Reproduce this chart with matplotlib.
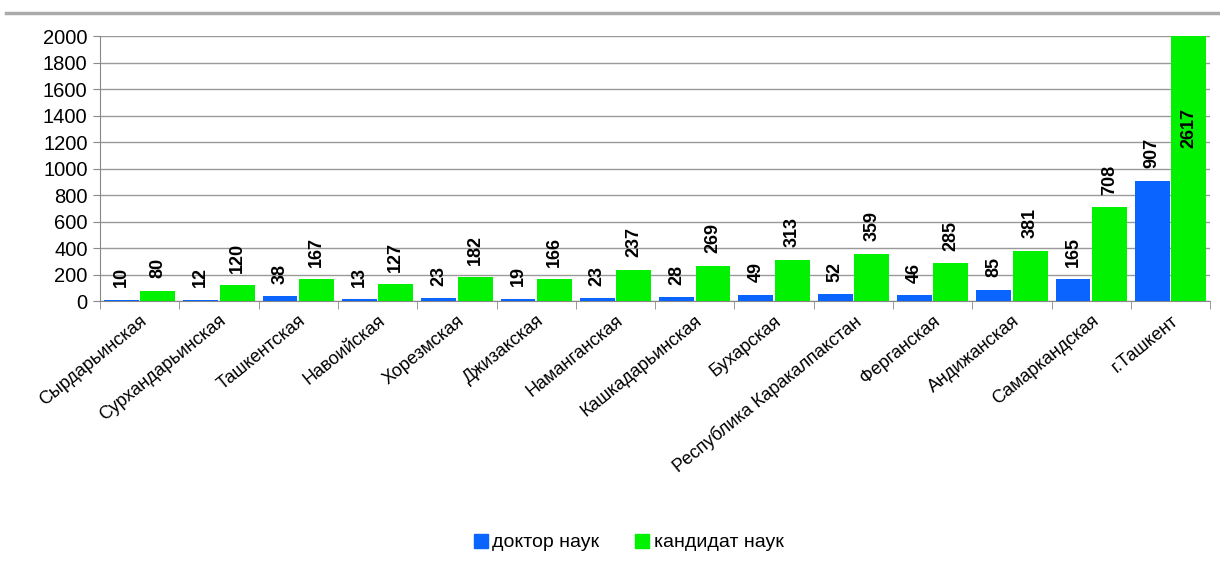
import numpy as np
import matplotlib.pyplot as plt
from matplotlib.lines import Line2D

plt.rcParams['font.family'] = ['Liberation Sans', 'DejaVu Sans']

regions = ['Сырдарьинская', 'Сурхандарьинская', 'Ташкентская', 'Навоийская',
           'Хорезмская', 'Джизакская', 'Наманганская', 'Кашкадарьинская',
           'Бухарская', 'Республика Каракалпакстан', 'Ферганская', 'Андижанская',
           'Самаркандская', 'г.Ташкент']
doktor = [10, 12, 38, 13, 23, 19, 23, 28, 49, 52, 46, 85, 165, 907]
kandidat = [80, 120, 167, 127, 182, 166, 237, 269, 313, 359, 285, 381, 708, 2617]

blue = '#0A64FF'
green = '#00F200'
ymax = 2000

fig = plt.figure(figsize=(12.2, 5.64), dpi=100)
ax = fig.add_axes([0.082, 0.466, 0.910, 0.470])

x = np.arange(len(regions))
w = 0.44
ax.bar(x - 0.23, doktor, w, color=blue, zorder=3, label='доктор наук')
ax.bar(x + 0.23, kandidat, w, color=green, zorder=3, label='кандидат наук')

# подписи значений
for i in range(len(regions)):
    ax.annotate(str(doktor[i]), (x[i] - 0.23, doktor[i]), xytext=(0, 9),
                textcoords='offset points', rotation=90, ha='center', va='bottom',
                fontsize=13, fontweight='bold')
    if kandidat[i] > ymax:
        ax.text(x[i] + 0.23, kandidat[i] / 2, str(kandidat[i]), rotation=90,
                ha='center', va='center', fontsize=13, fontweight='bold')
    else:
        ax.annotate(str(kandidat[i]), (x[i] + 0.23, kandidat[i]), xytext=(0, 9),
                    textcoords='offset points', rotation=90, ha='center', va='bottom',
                    fontsize=13, fontweight='bold')

ax.set_xlim(-0.5, len(regions) - 0.5)
ax.set_ylim(0, ymax)
ax.set_yticks(range(0, 2001, 200))
ax.tick_params(axis='y', labelsize=14.5, length=5, color='#888888', pad=4)
ax.grid(axis='y', color='#999999', linewidth=1, zorder=0)

ax.set_xticks(x)
ax.set_xticklabels(regions, rotation=39, ha='right', rotation_mode='anchor', fontsize=13)
ax.tick_params(axis='x', length=0, pad=8)
ax.set_xticks(np.arange(-0.5, len(regions), 1), minor=True)
ax.tick_params(axis='x', which='minor', length=6, color='#888888')

for s in ['top', 'right']:
    ax.spines[s].set_visible(False)
for s in ['left', 'bottom']:
    ax.spines[s].set_color('#888888')

handles = [Line2D([], [], marker='s', linestyle='', color=blue, markersize=10),
           Line2D([], [], marker='s', linestyle='', color=green, markersize=10)]
fig.legend(handles, ['доктор наук', 'кандидат наук'], loc='center',
           bbox_to_anchor=(0.515, 0.038), ncol=2, frameon=False, fontsize=14,
           handlelength=0.8, handletextpad=0.2, columnspacing=1.8)

# серая линия сверху
fig.add_artist(Line2D([0.005, 1.0], [0.977, 0.977], color='#AAAAAA', linewidth=2.5))

fig.savefig('out.png', dpi=100)
